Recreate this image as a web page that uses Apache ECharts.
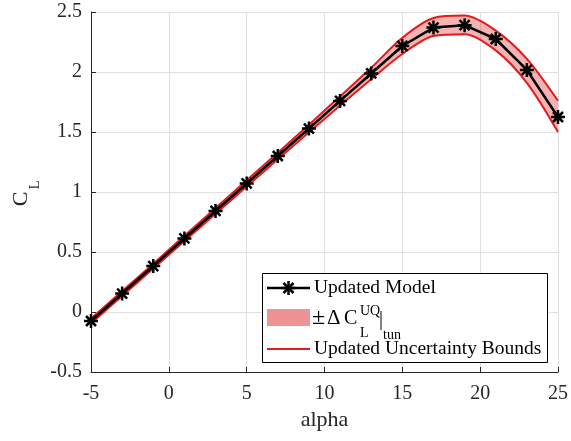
<!DOCTYPE html>
<html>
<head>
<meta charset="utf-8">
<script src="https://cdn.jsdelivr.net/npm/echarts@6/dist/echarts.min.js"></script>
<style>
  html, body { margin: 0; padding: 0; background: #fff; }
  #chart { width: 571px; height: 441px; }
</style>
</head>
<body>
<div id="chart"></div>
<script>
// angle of attack and updated model lift coefficient
var alpha = [-5, -3, -1, 1, 3, 5, 7, 9, 11, 13, 15, 17, 19, 21, 23, 25];
var clModel = [-0.075, 0.154, 0.383, 0.613, 0.842, 1.071, 1.30, 1.529, 1.759, 1.988, 2.217, 2.37, 2.39, 2.275, 2.017, 1.625];
// uncertainty bounds
var clUpper = [-0.055, 0.174, 0.403, 0.635, 0.866, 1.097, 1.328, 1.561, 1.797, 2.035, 2.285, 2.45, 2.47, 2.345, 2.11, 1.76];
var clLower = [-0.095, 0.134, 0.363, 0.591, 0.818, 1.045, 1.272, 1.497, 1.721, 1.94, 2.15, 2.30, 2.315, 2.18, 1.91, 1.50];

var xTicks = [-5, 0, 5, 10, 15, 20, 25];
var yTicks = [-0.5, 0, 0.5, 1, 1.5, 2, 2.5];

var serif = '"Liberation Serif", "DejaVu Serif", serif';
var axisCol = '#262626';
var red = '#e41a1c';
var star = 'path://M0,-7L0,7M-7,0L7,0M-5,-5L5,5M-5,5L5,-5';

var pairs = function (ys) { return alpha.map(function (a, i) { return [a, ys[i]]; }); };
// band series keep y first so the stack runs on y (encode maps it back)
var lowerYX = alpha.map(function (a, i) { return [clLower[i], a]; });
var diffYX = alpha.map(function (a, i) { return [clUpper[i] - clLower[i], a]; });

var dom = echarts.init(document.getElementById('chart'));

var axisCommon = {
  axisLine: { show: true, onZero: false, lineStyle: { color: axisCol, width: 1 } },
  axisTick: { show: true, inside: true, length: 5, lineStyle: { color: axisCol } },
  splitLine: { show: true, lineStyle: { color: '#e0e0e0', width: 1 } }
};

function txt(x, y, s, size) {
  return { type: 'text', z: 101, x: x, y: y,
    style: { text: s, font: size + 'px ' + serif, fill: '#000', verticalAlign: 'middle' } };
}
function seg(x1, y1, x2, y2, col, w) {
  return { type: 'line', z: 101, shape: { x1: x1, y1: y1, x2: x2, y2: y2 }, style: { stroke: col, lineWidth: w } };
}

var option = {
  animation: false,
  grid: { left: 91, right: 13, top: 12, bottom: 69 },
  xAxis: Object.assign({
    type: 'value',
    min: xTicks[0], max: xTicks[xTicks.length - 1], interval: 5,
    name: 'alpha', nameLocation: 'middle', nameGap: 37,
    nameTextStyle: { fontFamily: serif, fontSize: 22, color: axisCol },
    axisLabel: { fontFamily: serif, fontSize: 20, color: axisCol, margin: 12 }
  }, axisCommon),
  yAxis: Object.assign({
    type: 'value',
    min: yTicks[0], max: yTicks[yTicks.length - 1], interval: 0.5,
    axisLabel: { fontFamily: serif, fontSize: 20, color: axisCol, margin: 9 }
  }, axisCommon),
  series: [
    {
      name: 'lower', type: 'line', stack: 'band', stackStrategy: 'all', smooth: 0.3,
      data: lowerYX, encode: { x: 1, y: 0 }, symbol: 'none',
      lineStyle: { color: red, width: 2 }
    },
    {
      name: 'band', type: 'line', stack: 'band', stackStrategy: 'all', smooth: 0.3,
      data: diffYX, encode: { x: 1, y: 0 }, symbol: 'none',
      lineStyle: { color: red, width: 2 },
      areaStyle: { color: 'rgba(222, 40, 40, 0.5)' }
    },
    {
      name: 'Updated Model', type: 'line',
      data: pairs(clModel),
      symbol: star, symbolSize: 14,
      itemStyle: { color: '#000', borderColor: '#000', borderWidth: 2.5 },
      lineStyle: { color: '#000', width: 2.5 },
      z: 5
    }
  ],
  graphic: [
    // y axis title C_L
    { type: 'text', x: 21, y: 199, rotation: Math.PI / 2, z: 100,
      style: { text: 'C', font: '22px ' + serif, fill: axisCol, align: 'center', verticalAlign: 'middle' } },
    { type: 'text', x: 35, y: 185, rotation: Math.PI / 2, z: 100,
      style: { text: 'L', font: '15px ' + serif, fill: axisCol, align: 'center', verticalAlign: 'middle' } },
    // legend
    { type: 'rect', z: 100, shape: { x: 262.5, y: 273.5, width: 285, height: 89 },
      style: { fill: '#fff', stroke: '#000', lineWidth: 1 } },
    seg(267, 288, 310, 288, '#000', 2.5),
    { type: 'group', x: 288.5, y: 288, z: 101, children: [
      seg(0, -7, 0, 7, '#000', 2.5),
      seg(-7, 0, 7, 0, '#000', 2.5),
      seg(-5, -5, 5, 5, '#000', 2.5),
      seg(-5, 5, 5, -5, '#000', 2.5)
    ] },
    txt(314, 288, 'Updated Model', 19.5),
    { type: 'rect', z: 101, shape: { x: 267, y: 309, width: 43, height: 17 }, style: { fill: 'rgba(222, 40, 40, 0.5)' } },
    txt(312, 318, '\u00b1', 24),
    txt(327, 318.5, '\u0394', 21),
    txt(344, 318.5, 'C', 20),
    txt(360, 311, 'UQ', 14),
    txt(360, 333, 'L', 14),
    txt(379, 320, '|', 20),
    txt(383, 335, 'tun', 14),
    seg(267, 349, 310, 349, red, 2),
    txt(314, 349, 'Updated Uncertainty Bounds', 19.5)
  ]
};

dom.setOption(option);
</script>
</body>
</html>
